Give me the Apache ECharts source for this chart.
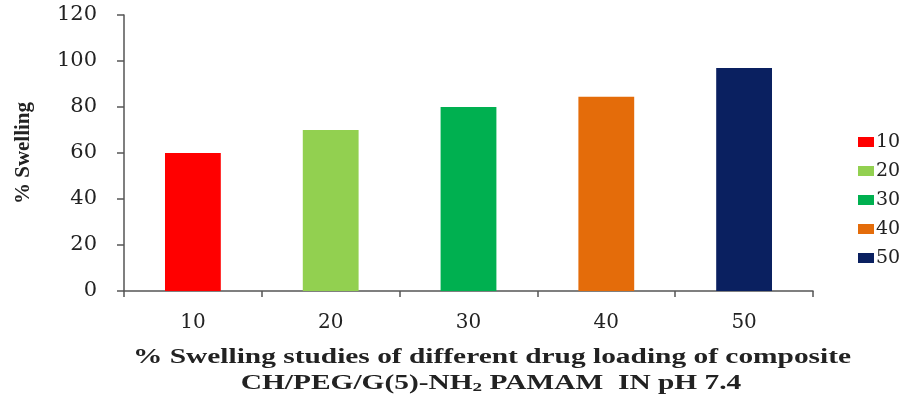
<!DOCTYPE html>
<html>
<head>
<meta charset="utf-8">
<script src="https://cdn.jsdelivr.net/npm/echarts@6/dist/echarts.min.js"></script>
<style>
  html, body { margin: 0; padding: 0; background: #fff; }
  #chart { width: 907px; height: 397px; }
</style>
</head>
<body>
<div id="chart"></div>
<script>
// Drug loading levels (categories) and swelling percentages
const categories = ['10', '20', '30', '40', '50'];
const swellingValues = [60, 70, 80, 84.5, 97];
const seriesNames = ['10', '20', '30', '40', '50'];
const barColors = ['#FF0000', '#92D050', '#00B050', '#E46C0A', '#0A2060'];
const yTicks = { min: 0, max: 120, interval: 20 };
const titleLines = [
  '% Swelling studies of different drug loading of composite',
  '{a|CH/PEG/G(5)-NH}{s|2}{a| PAMAM  IN pH 7.4}'
];

const serif = '"DejaVu Serif", serif';
const times = '"Liberation Serif", serif';
const textColor = '#222';
const titleStretch = 1.47;

// One series per loading level so each gets its own legend entry;
// stacking keeps every bar centred on its category.
const series = seriesNames.map((name, i) => ({
  name: name,
  type: 'bar',
  stack: 'all',
  barWidth: '40.5%',
  itemStyle: { color: barColors[i] },
  data: categories.map((c, j) => (j === i ? swellingValues[i] : '-'))
}));

const chart = echarts.init(document.getElementById('chart'), null, { renderer: 'canvas' });
chart.setOption({
  animation: false,
  backgroundColor: '#fff',
  grid: { left: 124, right: 94, top: 15, bottom: 106, containLabel: false, outerBoundsMode: 'none' },
  legend: {
    orient: 'vertical',
    left: 853,
    top: 127,
    itemWidth: 16,
    itemHeight: 10,
    itemGap: 9,
    icon: 'rect',
    textStyle: { fontFamily: serif, fontSize: 19, color: textColor, lineHeight: 20, padding: [0, 0, 0, -3] },
    data: seriesNames
  },
  xAxis: {
    type: 'category',
    data: categories,
    axisLine: { lineStyle: { color: '#555', width: 1.5 } },
    axisTick: { show: true, length: 6, lineStyle: { color: '#555', width: 1.5 } },
    axisLabel: { fontFamily: serif, fontSize: 20, color: textColor, margin: 22 }
  },
  yAxis: {
    type: 'value',
    min: yTicks.min,
    max: yTicks.max,
    interval: yTicks.interval,
    name: '% Swelling',
    nameLocation: 'middle',
    nameRotate: 90,
    nameGap: 90,
    nameTextStyle: { fontFamily: times, fontWeight: 'bold', fontSize: 21, color: textColor },
    axisLine: { show: true, lineStyle: { color: '#555', width: 1.5 } },
    axisTick: { show: true, length: 7, lineStyle: { color: '#555', width: 1.5 } },
    splitLine: { show: false },
    axisLabel: { fontFamily: serif, fontSize: 21, color: textColor, margin: 27 }
  },
  graphic: [
    {
      type: 'text',
      x: 492,
      y: 358,
      scaleX: titleStretch,
      style: {
        text: titleLines[0],
        x: 0, y: 0,
        textAlign: 'center',
        textVerticalAlign: 'middle',
        fontFamily: times,
        fontWeight: 'bold',
        fontSize: 20,
        fill: textColor
      }
    },
    {
      type: 'text',
      x: 491,
      y: 384,
      scaleX: titleStretch,
      style: {
        text: titleLines[1],
        x: 0, y: 0,
        textAlign: 'center',
        textVerticalAlign: 'middle',
        rich: {
          a: { fontFamily: times, fontWeight: 'bold', fontSize: 20, fill: textColor },
          s: { fontFamily: times, fontWeight: 'bold', fontSize: 13, fill: textColor, padding: [8, 0, 0, 0] }
        }
      }
    }
  ],
  series: series
});
</script>
</body>
</html>
